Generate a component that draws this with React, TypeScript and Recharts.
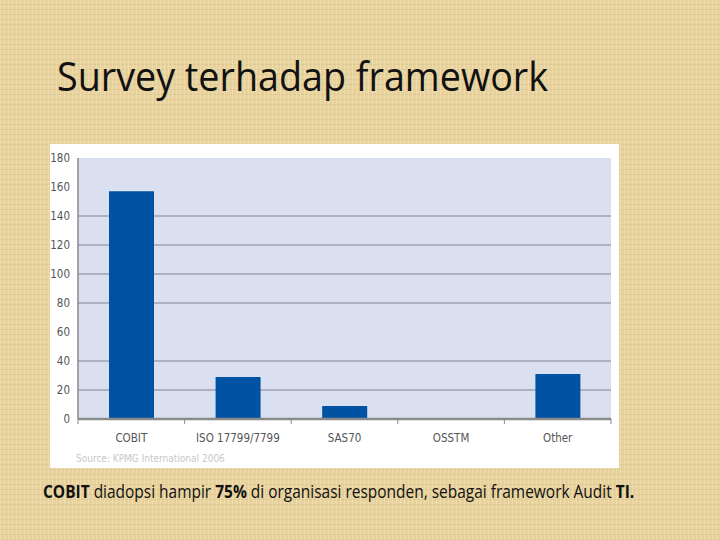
import { useLayoutEffect, useRef, useState } from "react";
import { BarChart, Bar, XAxis, YAxis, CartesianGrid } from "recharts";

const categories = ["COBIT", "ISO 17799/7799", "SAS70", "OSSTM", "Other"];
const respondents = [157, 29, 9, 0, 31];
const yTicks = [0, 20, 40, 60, 80, 100, 120, 140, 160, 180];
const gridValues = [20, 40, 80, 100, 120, 140];

const data = categories.map((name, i) => ({ name, value: respondents[i] }));

const axisFont = "'Liberation Sans Narrow', 'DejaVu Sans Condensed', 'Roboto', sans-serif";
const bodyFont = "'Open Sans', sans-serif";

// squeeze a line of text to a given width (the slide uses Calibri, which is narrower)
function FitText({ left, top, width, size, children }: any) {
  const ref = useRef<HTMLDivElement>(null);
  const [k, setK] = useState(1);
  useLayoutEffect(() => {
    if (ref.current) {
      const w = ref.current.scrollWidth;
      if (w > 0) setK(width / w);
    }
  }, [width]);
  return (
    <div
      ref={ref}
      style={{
        position: "absolute",
        left,
        top,
        fontSize: size,
        fontFamily: bodyFont,
        color: "#111",
        whiteSpace: "nowrap",
        lineHeight: 1,
        transform: `scaleX(${k})`,
        transformOrigin: "left top",
      }}
    >
      {children}
    </div>
  );
}

function CategoryTick(props: any) {
  const { x, y, payload, index } = props;
  const half = payload && payload.offset ? payload.offset : 53.3;
  const last = index === categories.length - 1;
  return (
    <g>
      <line x1={x - half} y1={y} x2={x - half} y2={y + 5} stroke="#8a8a8a" strokeWidth={1} />
      {last && <line x1={x + half} y1={y} x2={x + half} y2={y + 5} stroke="#8a8a8a" strokeWidth={1} />}
      <text x={x} y={y + 23} textAnchor="middle" fontSize={11.5} fill="#555" fontFamily={axisFont}>
        {payload.value}
      </text>
    </g>
  );
}

const paper =
  "repeating-linear-gradient(90deg, rgba(255,250,230,0.25) 0px, rgba(255,250,230,0.25) 1px, transparent 1px, transparent 4px)," +
  "repeating-linear-gradient(0deg, rgba(190,160,100,0.18) 0px, rgba(190,160,100,0.18) 1px, transparent 1px, transparent 5px)," +
  "#e8d29d";

export default function App() {
  return (
    <div
      style={{
        position: "fixed",
        left: 0,
        top: 0,
        width: 720,
        height: 540,
        background: paper,
        overflow: "hidden",
      }}
    >
      <FitText left={57} top={56} width={491} size={40}>
        Survey terhadap framework
      </FitText>
      <FitText left={43} top={482} width={591} size={18}>
        <b>COBIT</b> diadopsi hampir <b>75%</b> di organisasi responden, sebagai framework Audit <b>TI.</b>
      </FitText>
      <div
        style={{
          position: "absolute",
          left: 50,
          top: 144,
          width: 569,
          height: 324,
          background: "#ffffff",
          overflow: "hidden",
        }}
      >
        <BarChart
          width={569}
          height={323}
          data={data}
          margin={{ top: 14, right: 8, bottom: 0, left: 0 }}
          barSize={45}
        >
          <CartesianGrid
            vertical={false}
            horizontalValues={gridValues}
            fill="#dbe0f1"
            stroke="#9ea2b2"
            strokeWidth={1.5}
          />
          <XAxis
            dataKey="name"
            height={48}
            axisLine={{ stroke: "#8a8a8a", strokeWidth: 2.5 }}
            tickLine={false}
            tickSize={0}
            tickMargin={0}
            interval={0}
            tick={<CategoryTick />}
          />
          <YAxis
            width={28}
            domain={[0, 180]}
            ticks={yTicks}
            interval={0}
            axisLine={{ stroke: "#8a8a8a", strokeWidth: 1.5 }}
            tickLine={false}
            tick={{ fontSize: 11.5, fill: "#555", fontFamily: axisFont }}
          />
          <Bar dataKey="value" fill="#0052a3" isAnimationActive={false} />
        </BarChart>
        <div
          style={{
            position: "absolute",
            left: 26,
            top: 310,
            fontSize: 10,
            lineHeight: 1,
            color: "#c8c8c8",
            fontFamily: axisFont,
            whiteSpace: "nowrap",
          }}
        >
          Source: KPMG International 2006
        </div>
      </div>
    </div>
  );
}
